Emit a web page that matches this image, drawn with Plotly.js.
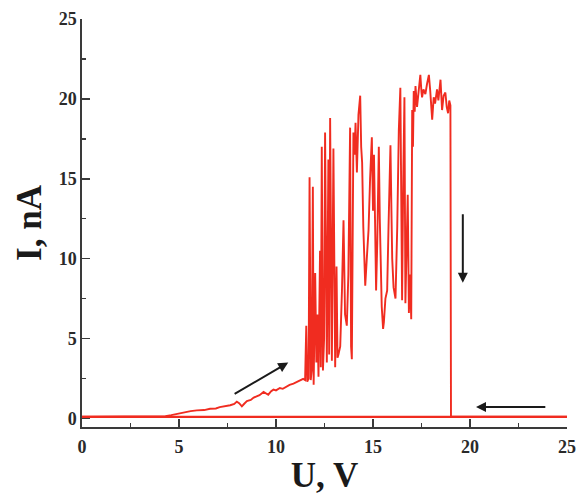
<!DOCTYPE html>
<html>
<head>
<meta charset="utf-8">
<script src="https://cdn.plot.ly/plotly-3.0.1.min.js"></script>
<style>html,body{margin:0;padding:0;background:#fff;}#chart{width:579px;height:495px;}</style>
</head>
<body>
<div id="chart"></div>
<script>
// Forward sweep (U in V, I in nA)
var U_forward = [0, 4.0, 4.3, 4.6, 4.9, 5.24, 5.6, 5.92, 6.3, 6.6, 6.9, 7.1, 7.4, 7.64, 7.85, 7.98, 8.1, 8.24, 8.35, 8.5, 8.7, 8.85, 9.0, 9.15, 9.36, 9.5, 9.6, 9.75, 9.87, 10.0, 10.2, 10.35, 10.56, 10.7, 10.9, 11.05, 11.25, 11.4, 11.5,
  11.56, 11.61, 11.68, 11.73, 11.79, 11.84, 11.9, 11.94, 12.02, 12.08, 12.13, 12.19, 12.27, 12.31, 12.36, 12.42, 12.48, 12.53, 12.58, 12.62, 12.7, 12.74, 12.79, 12.84, 12.88, 12.96, 13.01, 13.05, 13.12, 13.17, 13.22, 13.31, 13.4, 13.48, 13.56, 13.65, 13.73, 13.82, 13.87, 13.91, 13.99, 14.05, 14.1, 14.17, 14.25, 14.34, 14.39, 14.44, 14.5, 14.55, 14.6, 14.68, 14.77, 14.85, 14.94, 15.0, 15.05, 15.11, 15.16, 15.22, 15.3, 15.35, 15.38, 15.45, 15.52, 15.56, 15.64, 15.73, 15.8, 15.86, 15.9, 15.95, 15.99, 16.06, 16.16, 16.25, 16.33, 16.41, 16.46, 16.5, 16.56, 16.62, 16.67, 16.73, 16.79, 16.85, 16.91, 16.97, 17.02, 17.06, 17.1, 17.15, 17.19, 17.27, 17.34, 17.44, 17.5, 17.53, 17.6, 17.7, 17.78, 17.88, 17.95, 18.05, 18.13, 18.2, 18.3, 18.37, 18.48, 18.56, 18.64, 18.73, 18.8, 18.87, 18.93, 18.99, 19.02, 25];
var I_forward = [0.1, 0.1, 0.14, 0.2, 0.28, 0.4, 0.45, 0.5, 0.52, 0.6, 0.62, 0.7, 0.75, 0.82, 0.9, 1.05, 0.95, 0.75, 0.9, 1.08, 1.15, 1.3, 1.38, 1.45, 1.65, 1.55, 1.48, 1.7, 1.8, 1.75, 1.9, 1.85, 2.0, 2.1, 2.17, 2.25, 2.38, 2.47, 2.4,
  5.8, 2.3, 2.5, 15.1, 2.4, 3.0, 14.5, 2.1, 9.1, 3.5, 6.5, 2.6, 10.5, 3.2, 17.0, 3.0, 5.0, 17.9, 4.2, 3.5, 16.2, 4.0, 18.8, 4.5, 3.6, 16.9, 4.0, 3.2, 9.5, 3.8, 4.0, 4.5, 8.0, 12.4, 6.5, 5.8, 9.0, 18.2, 4.5, 3.7, 17.9, 16.5, 18.5, 15.4, 19.0, 20.2, 17.0, 16.0, 12.0, 9.5, 8.3, 10.0, 11.8, 15.0, 17.6, 13.0, 16.5, 12.0, 8.0, 11.0, 17.0, 12.5, 10.0, 7.0, 5.6, 6.0, 7.5, 8.0, 12.0, 14.5, 17.1, 13.0, 10.0, 8.2, 7.5, 12.0, 18.0, 20.7, 12.0, 7.4, 15.0, 20.1, 7.2, 10.5, 14.0, 6.6, 9.0, 6.2, 19.3, 17.0, 20.5, 19.2, 20.8, 19.5, 20.3, 21.5, 20.4, 20.1, 20.6, 20.3, 20.9, 21.5, 20.5, 18.7, 20.1, 19.7, 20.6, 19.9, 21.2, 19.3, 20.2, 20.4, 19.5, 19.1, 19.9, 19.6, 0.1, 0.1];
// Reverse sweep
var U_reverse = [25, 0];
var I_reverse = [0.1, 0.1];

var xTickVals = [0, 5, 10, 15, 20, 25];
var xTickText = ['0', '5', '10', '15', '20', '25'];
var yTickVals = [0, 5, 10, 15, 20, 25];
var yTickText = ['0', '5', '10', '15', '20', '25'];

var lineColor = 'rgb(240,44,32)';
var traces = [
  {x: U_forward, y: I_forward, mode: 'lines', line: {color: lineColor, width: 1.9}, hoverinfo: 'skip', showlegend: false},
  {x: U_reverse, y: I_reverse, mode: 'lines', line: {color: lineColor, width: 2.2}, hoverinfo: 'skip', showlegend: false}
];

var tickFont = {family: 'Liberation Serif, serif', size: 18, weight: 'bold', color: '#2a2a2a'};
var titleFont = {family: 'Liberation Serif, serif', size: 35, weight: 'bold', color: '#1a1a1a'};

var axisCommon = {
  showgrid: false, zeroline: false, showline: true, linecolor: '#3a3a3a', linewidth: 1.6,
  ticks: 'inside', ticklen: 8, tickwidth: 1.6, tickcolor: '#3a3a3a', mirror: false,
  tickfont: tickFont,
  minor: {ticks: 'inside', ticklen: 4, tickwidth: 1.4, tickcolor: '#3a3a3a', showgrid: false}
};

var layout = {
  width: 579, height: 495,
  margin: {l: 82, r: 12, t: 19, b: 68},
  paper_bgcolor: '#fff', plot_bgcolor: '#fff',
  xaxis: Object.assign({}, axisCommon, {
    range: [0, 25], tickmode: 'array', tickvals: xTickVals, ticktext: xTickText,
    ticklabelstandoff: 3,
    minor: Object.assign({}, axisCommon.minor, {dtick: 2.5, tick0: 0}),
    title: {text: 'U, V', font: titleFont, standoff: 6}
  }),
  yaxis: Object.assign({}, axisCommon, {
    range: [-0.54, 25], tickmode: 'array', tickvals: yTickVals, ticktext: yTickText,
    minor: Object.assign({}, axisCommon.minor, {dtick: 2.5, tick0: 0}),
    title: {text: 'I, nA', font: titleFont, standoff: 6}
  }),
  annotations: [
    {x: 10.63, y: 3.49, ax: 7.79, ay: 1.48, xref: 'x', yref: 'y', axref: 'x', ayref: 'y', text: '', showarrow: true, arrowhead: 2, arrowsize: 1, arrowwidth: 2, arrowcolor: '#1a1a1a'},
    {x: 19.63, y: 8.49, ax: 19.63, ay: 12.87, xref: 'x', yref: 'y', axref: 'x', ayref: 'y', text: '', showarrow: true, arrowhead: 2, arrowsize: 1, arrowwidth: 2, arrowcolor: '#1a1a1a'},
    {x: 20.31, y: 0.71, ax: 23.96, ay: 0.71, xref: 'x', yref: 'y', axref: 'x', ayref: 'y', text: '', showarrow: true, arrowhead: 2, arrowsize: 1, arrowwidth: 2, arrowcolor: '#1a1a1a'}
  ]
};

Plotly.newPlot('chart', traces, layout, {displayModeBar: false, staticPlot: true});
</script>
</body>
</html>
